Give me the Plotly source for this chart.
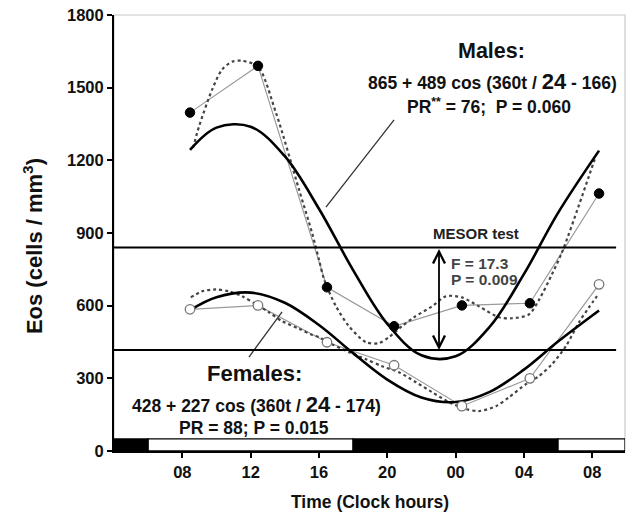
import plotly.graph_objects as go

# ---------------- data ----------------
hours = [8.45, 12.43, 16.47, 20.4, 24.37, 28.35, 32.4]
males_eos = [1397, 1590, 676, 515, 601, 610, 1063]
females_eos = [585, 601, 449, 354, 185, 300, 688]

fit_t = [8.45, 10, 12, 14, 16, 18, 20, 22, 24, 26, 28, 30, 32.4]
males_fit = [1243, 1335, 1339, 1217, 1000, 747, 525, 395, 391, 513, 730, 983, 1240]
females_fit = [582, 635, 654, 612, 520, 404, 295, 221, 202, 244, 336, 452, 580]

males_smooth_t = [8.63, 8.98, 9.74, 10.32, 10.91, 11.49, 12.43, 13.48, 14.83, 15.59, 16.0, 16.3,
                  17.0, 17.76, 18.75, 19.5, 20.1, 20.86, 21.56, 22.62, 23.44, 24.37, 25.37,
                  26.54, 27.3, 28.3, 28.9, 29.64, 30.23, 31.2, 31.8, 32.2]
males_smooth = [1252, 1340, 1491, 1574, 1607, 1611, 1587, 1397, 1080, 902, 791, 709,
                597, 515, 449, 445, 470, 515, 552, 597, 639, 634, 597,
                552, 548, 564, 626, 729, 820, 1010, 1133, 1215]

females_smooth_t = [8.5, 9.15, 9.97, 10.73, 11.5, 12.3, 13.07, 13.84, 14.83, 15.59, 16.0, 16.76,
                    17.76, 18.75, 19.69, 20.69, 21.68, 22.62, 23.61, 24.61, 25.37, 26.37,
                    27.13, 28.12, 28.88, 29.64, 30.46, 31.23, 31.81, 32.28]
females_smooth = [634, 659, 667, 659, 639, 606, 573, 536, 505, 480, 470, 441,
                  408, 379, 350, 325, 284, 243, 202, 173, 165, 185,
                  222, 276, 309, 358, 433, 532, 593, 639]

mesor_levels = [840, 417]
mesor_span = [4, 33.4]
mesor_test_hour = 23.03

males_leader_t = [20.4, 16.41]
males_leader_y = [1367, 1007]
females_leader_t = [13.84, 11.9]
females_leader_y = [574, 388]

lightdark_edges = [4, 6, 18, 30, 33.92]
lightdark_state = ["dark", "light", "dark", "light"]
lightdark_height = 50

tick_hours = [8, 12, 16, 20, 24, 28, 32]
tick_labels = ["08", "12", "16", "20", "00", "04", "08"]
y_ticks = [0, 300, 600, 900, 1200, 1500, 1800]

FONT = "Arial, Liberation Sans, sans-serif"

fig = go.Figure()

# data connectors
fig.add_trace(go.Scatter(x=hours, y=males_eos, mode="lines", line=dict(color="#9a9a9a", width=1.2),
                         hoverinfo="skip", showlegend=False))
fig.add_trace(go.Scatter(x=hours, y=females_eos, mode="lines", line=dict(color="#9a9a9a", width=1.2),
                         hoverinfo="skip", showlegend=False))

# dotted smooth curves
fig.add_trace(go.Scatter(x=males_smooth_t, y=males_smooth, mode="lines",
                         line=dict(color="#444", width=2.2, dash="dot", shape="spline", smoothing=0.8),
                         showlegend=False))
fig.add_trace(go.Scatter(x=females_smooth_t, y=females_smooth, mode="lines",
                         line=dict(color="#444", width=2.2, dash="dot", shape="spline", smoothing=0.8),
                         showlegend=False))

# cosinor fits
fig.add_trace(go.Scatter(x=fit_t, y=males_fit, mode="lines",
                         line=dict(color="black", width=2.6, shape="spline"), showlegend=False))
fig.add_trace(go.Scatter(x=fit_t, y=females_fit, mode="lines",
                         line=dict(color="black", width=2.6, shape="spline"), showlegend=False))

# leader lines
fig.add_trace(go.Scatter(x=males_leader_t, y=males_leader_y, mode="lines",
                         line=dict(color="#333", width=1.3), showlegend=False))
fig.add_trace(go.Scatter(x=females_leader_t, y=females_leader_y, mode="lines",
                         line=dict(color="#333", width=1.3), showlegend=False))

# markers
fig.add_trace(go.Scatter(x=hours, y=males_eos, mode="markers",
                         marker=dict(color="black", size=9.5, line=dict(color="black", width=1)),
                         name="Males", showlegend=False))
fig.add_trace(go.Scatter(x=hours, y=females_eos, mode="markers",
                         marker=dict(color="white", size=9.5, line=dict(color="#777", width=1.3)),
                         name="Females", showlegend=False))

shapes = []
# plot frame (light gray top/right)
shapes.append(dict(type="rect", xref="paper", yref="paper", x0=0, x1=1, y0=0, y1=1,
                   line=dict(color="#c8c8c8", width=1.2), layer="below"))
# MESOR lines
for lvl in mesor_levels:
    shapes.append(dict(type="line", xref="x", yref="y", x0=mesor_span[0], x1=mesor_span[1],
                       y0=lvl, y1=lvl, line=dict(color="black", width=2)))
# light/dark bar
for i, st in enumerate(lightdark_state):
    shapes.append(dict(type="rect", xref="x", yref="y", x0=lightdark_edges[i], x1=lightdark_edges[i + 1],
                       y0=0, y1=lightdark_height,
                       fillcolor="black" if st == "dark" else "white",
                       line=dict(color="black", width=1.3)))

annotations = [
    # MESOR arrow
    dict(x=mesor_test_hour, y=mesor_levels[1], ax=mesor_test_hour, ay=mesor_levels[0],
         xref="x", yref="y", axref="x", ayref="y", text="", showarrow=True,
         arrowhead=5, startarrowhead=5, arrowside="end+start", arrowsize=1.3, startarrowsize=1.3,
         arrowwidth=1.8, arrowcolor="black"),
    dict(x=25.2, y=900, xref="x", yref="y", text="<b>MESOR test</b>", showarrow=False,
         font=dict(size=15, color="#222", family=FONT)),
    dict(x=23.6, y=776, xref="x", yref="y", text="<b>F = 17.3</b>", showarrow=False, xanchor="left",
         font=dict(size=15.5, color="#444", family=FONT)),
    dict(x=23.6, y=706, xref="x", yref="y", text="<b>P = 0.009</b>", showarrow=False, xanchor="left",
         font=dict(size=15.5, color="#444", family=FONT)),
    dict(x=26.13, y=1650, xref="x", yref="y", text="<b>Males:</b>", showarrow=False,
         font=dict(size=21.5, color="#111", family=FONT)),
    dict(x=26.15, y=1524, xref="x", yref="y",
         text="<b>865 + 489 cos (360t / <span style='font-size:22px'>24</span> - 166)</b>",
         showarrow=False, font=dict(size=17.5, color="#111", family=FONT)),
    dict(x=25.96, y=1424, xref="x", yref="y", text="<b>PR<sup>**</sup> = 76;  P = 0.060</b>",
         showarrow=False, font=dict(size=17.5, color="#111", family=FONT)),
    dict(x=12.2, y=322, xref="x", yref="y", text="<b>Females:</b>", showarrow=False,
         font=dict(size=22, color="#111", family=FONT)),
    dict(x=12.35, y=190, xref="x", yref="y",
         text="<b>428 + 227 cos (360t / <span style='font-size:22px'>24</span> - 174)</b>",
         showarrow=False, font=dict(size=17.5, color="#111", family=FONT)),
    dict(x=12.2, y=95, xref="x", yref="y", text="<b>PR = 88; P = 0.015</b>",
         showarrow=False, font=dict(size=17.5, color="#111", family=FONT)),
    # axis titles
    dict(x=-0.1585, y=0.47, xref="paper", yref="paper", xanchor="center", yanchor="middle",
         text="<b>Eos (cells / mm<sup>3</sup>)</b>",
         textangle=-90, showarrow=False, font=dict(size=22, color="#111", family=FONT)),
    dict(x=0.501, y=-0.117, xref="paper", yref="paper", xanchor="center", yanchor="middle",
         text="<b>Time (Clock hours)</b>",
         showarrow=False, font=dict(size=17.5, color="#111", family=FONT)),
]

fig.update_layout(
    width=630, height=516,
    margin=dict(l=114, r=5, t=15, b=65, autoexpand=False),
    paper_bgcolor="white", plot_bgcolor="white",
    shapes=shapes, annotations=annotations,
    showlegend=False,
    xaxis=dict(range=[lightdark_edges[0], lightdark_edges[-1]], tickvals=tick_hours, ticktext=tick_labels,
               showgrid=False, zeroline=False, showline=True, linecolor="black", linewidth=2,
               ticks="outside", ticklen=5, tickwidth=2, tickcolor="black", automargin=False,
               tickfont=dict(size=16.5, color="#111", family=FONT, weight="bold")),
    yaxis=dict(range=[0, 1800], tickvals=y_ticks, showgrid=False, zeroline=False,
               showline=True, linecolor="black", linewidth=2,
               ticks="outside", ticklen=5, tickwidth=1.5, tickcolor="black",
               ticklabeloverflow="allow", automargin=False,
               tickfont=dict(size=16.5, color="#111", family=FONT, weight="bold")),
)

fig.write_html("out.html", config={"displayModeBar": False},
               post_script="document.body.style.margin='0';document.body.style.overflow='hidden';")
